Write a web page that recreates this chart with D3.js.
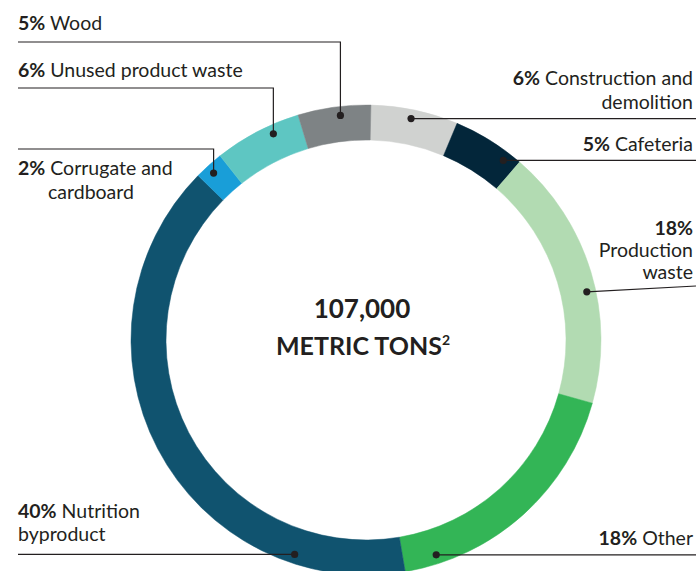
<!DOCTYPE html>
<html>
<head>
<meta charset="utf-8">
<script src="https://cdn.jsdelivr.net/npm/d3@7"></script>
<style>
  body { margin: 0; background: #fff; }
  svg { display: block; font-family: Lato, "Noto Sans", sans-serif; }
</style>
</head>
<body>
<svg id="chart" width="696" height="571"></svg>
<script>
// data, clockwise from 12 o'clock
const categories = ['Construction and demolition', 'Cafeteria', 'Production waste', 'Other',
  'Nutrition byproduct', 'Corrugate and cardboard', 'Unused product waste', 'Wood'];
const shares = [6, 5, 18, 18, 40, 2, 6, 5];
const colors = ['#d0d2d0', '#03263a', '#b2dbb2', '#33b556', '#10536f', '#199ed8', '#5ec6c2', '#7e8385'];
const totalLabel = ['107,000', 'METRIC TONS'];

// label text lines (first line gets the bold percentage)
const labelLines = [
  ['Construction and', 'demolition'],
  ['Cafeteria'],
  ['', 'Production', 'waste'],
  ['Other'],
  ['Nutrition', 'byproduct'],
  ['Corrugate and', 'cardboard'],
  ['Unused product waste'],
  ['Wood'],
];

const svg = d3.select('#chart');
const width = +svg.attr('width');
const cx = 366, cy = 340;
const rOuter = 235, rInner = 200, rDot = 226;
const startDeg = 1.2;

const g = svg.append('g').attr('transform', `translate(${cx},${cy})`);

const pie = d3.pie()
  .sort(null)
  .value(d => d)
  .startAngle(startDeg * Math.PI / 180)
  .endAngle((360 + startDeg) * Math.PI / 180);

const arc = d3.arc().innerRadius(rInner).outerRadius(rOuter);
const arcs = pie(shares);

g.selectAll('path.slice')
  .data(arcs)
  .join('path')
  .attr('class', 'slice')
  .attr('d', arc)
  .attr('fill', (d, i) => colors[i])
  .attr('stroke', (d, i) => colors[i])
  .attr('stroke-width', 0.5);

// centre text
svg.append('text')
  .attr('x', cx - 4).attr('y', 318)
  .attr('text-anchor', 'middle')
  .attr('font-size', 26).attr('font-weight', 700).attr('fill', '#231f20')
  .text(totalLabel[0]);

const t2 = svg.append('text')
  .attr('x', cx - 3).attr('y', 355)
  .attr('text-anchor', 'middle')
  .attr('font-size', 25).attr('font-weight', 700).attr('fill', '#231f20');
t2.append('tspan').text(totalLabel[1]);
t2.append('tspan').attr('font-size', 14).attr('dy', -10).text('2');

// label layout: dot angle on ring, leader type, text anchor
const layout = [
  { deg: 11.5, kind: 'h', side: 'right', x: 693, y: [85, 109] },
  { deg: 37.4, kind: 'h', side: 'right', x: 693, y: [151] },
  { deg: 77.7, kind: 'h', side: 'right', x: 693, y: [235, 257, 279], endY: 286 },
  { deg: 161.9, kind: 'h', side: 'right', x: 693, y: [545] },
  { deg: 198.4, kind: 'h', side: 'left', x: 18, y: [518, 541] },
  { deg: 317.6, kind: 'v', lineY: 149, x: 18, y: [175, 199], indent: [18, 48] },
  { deg: 335.8, kind: 'v', lineY: 88, x: 18, y: [77] },
  { deg: 353.5, kind: 'v', lineY: 42, x: 18, y: [30] },
];

const ink = '#231f20';
const lines = svg.append('g');
const labels = svg.append('g');

layout.forEach((l, i) => {
  const a = l.deg * Math.PI / 180;
  const px = cx + rDot * Math.sin(a);
  const py = cy - rDot * Math.cos(a);

  let pts;
  if (l.kind === 'v') {
    pts = [[px, py], [px, l.lineY], [18, l.lineY]];
  } else if (l.side === 'right') {
    pts = [[px, py], [width, l.endY || py]];
  } else {
    pts = [[px, py], [18, py]];
  }
  lines.append('path')
    .attr('d', d3.line()(pts))
    .attr('fill', 'none')
    .attr('stroke', ink)
    .attr('stroke-width', 1.2);
  lines.append('circle')
    .attr('cx', px).attr('cy', py).attr('r', 3.6)
    .attr('fill', ink);

  const anchor = l.side === 'right' ? 'end' : 'start';
  labelLines[i].forEach((txt, j) => {
    const x = l.indent ? l.indent[j] : l.x;
    const t = labels.append('text')
      .attr('x', x).attr('y', l.y[j])
      .attr('text-anchor', anchor)
      .attr('font-size', 19.5)
      .attr('fill', ink);
    if (j === 0) {
      t.append('tspan').attr('font-weight', 700).text(shares[i] + '%');
      if (txt) t.append('tspan').text(' ' + txt);
    } else {
      t.text(txt);
    }
  });
});
</script>
</body>
</html>
